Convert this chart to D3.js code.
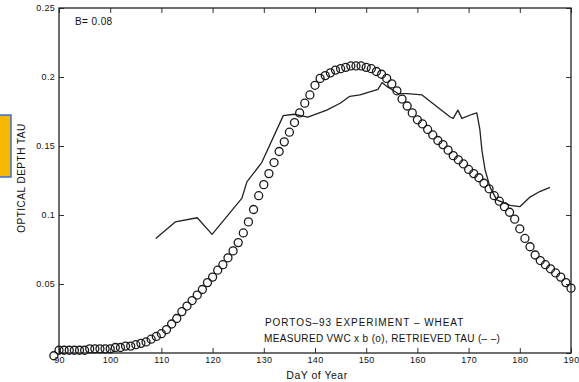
<!DOCTYPE html>
<html>
<head>
<meta charset="utf-8">
<script src="https://cdn.jsdelivr.net/npm/d3@7"></script>
<style>
  body { margin: 0; background: #fff; }
  text { font-family: "Liberation Sans", Arial, sans-serif; fill: #111; }
</style>
</head>
<body>
<div id="chart"></div>
<script>
var width = 579,
    height = 382;
var margin = {top: 8, right: 8, bottom: 29, left: 59};
var w = width - margin.left - margin.right,
    h = height - margin.top - margin.bottom;

// measured VWC x b, one circle per day
var vwcDays = d3.range(89, 191);
var vwcValues = [
  -0.002, 0.002, 0.002, 0.002, 0.002, 0.002, 0.002, 0.003, 0.003, 0.003,
  0.003, 0.003, 0.004, 0.004, 0.005, 0.005, 0.006, 0.007, 0.008, 0.010,
  0.012, 0.014, 0.017, 0.021, 0.025, 0.030, 0.034, 0.038, 0.042, 0.046,
  0.051, 0.055, 0.060, 0.064, 0.069, 0.074, 0.080, 0.087, 0.095, 0.104,
  0.114, 0.122, 0.130, 0.138, 0.146, 0.153, 0.160, 0.167, 0.174, 0.181,
  0.187, 0.194, 0.199, 0.201, 0.203, 0.205, 0.206, 0.207, 0.208, 0.208,
  0.208, 0.207, 0.206, 0.204, 0.202, 0.199, 0.195, 0.190, 0.184, 0.179,
  0.174, 0.169, 0.166, 0.162, 0.158, 0.154, 0.151, 0.147, 0.143, 0.140,
  0.137, 0.133, 0.130, 0.127, 0.123, 0.119, 0.114, 0.110, 0.106, 0.102,
  0.097, 0.090, 0.083, 0.077, 0.071, 0.067, 0.064, 0.061, 0.058, 0.055,
  0.051, 0.047
];

// retrieved tau (solid line)
var tauDays = [108.9, 112.7, 117.0, 119.9, 125.7, 126.7, 129.6, 133.8, 135.9, 138.6,
  142.3, 144.9, 146.8, 148.8, 152.3, 153.1, 154.1, 155.0, 156.2, 158.0,
  160.9, 166.4, 167.0, 167.9, 168.7, 170.7, 171.6, 172.2, 172.6, 173.2,
  174.2, 175.5, 178.1, 180.0, 182.0, 183.9, 185.9];
var tauValues = [0.083, 0.095, 0.098, 0.086, 0.112, 0.124, 0.138, 0.172, 0.173, 0.171,
  0.176, 0.181, 0.186, 0.187, 0.191, 0.196, 0.193, 0.191, 0.188, 0.188,
  0.187, 0.171, 0.170, 0.176, 0.170, 0.173, 0.174, 0.162, 0.147, 0.133,
  0.120, 0.111, 0.107, 0.106, 0.113, 0.117, 0.120];

var xTicks = [90, 100, 110, 120, 130, 140, 150, 160, 170, 180, 190];
var yTicks = [0, 0.05, 0.1, 0.15, 0.2, 0.25];
// the "0" label is hidden under the first circle in the original
var yTickLabels = ["", "0.05", "0.1", "0.15", "0.2", "0.25"];

var svg = d3.select("#chart")
    .append("svg")
    .attr("width", width)
    .attr("height", height);

// stray highlight at the left edge of the scan
svg.append("rect")
    .attr("x", -2).attr("y", 115)
    .attr("width", 13).attr("height", 62)
    .attr("fill", "#f6b900")
    .attr("stroke", "#3b6fd6")
    .attr("stroke-width", 1.5);

var g = svg.append("g")
    .attr("transform", "translate(" + margin.left + "," + margin.top + ")");

var x = d3.scaleLinear().domain([90, 190]).range([0, w]);
var y = d3.scaleLinear().domain([0, 0.25]).range([h, 0]);

function styleAxis(sel) {
  sel.select(".domain").remove();
  sel.selectAll(".tick line").attr("stroke", "#333").attr("stroke-width", 1);
  sel.selectAll(".tick text")
    .style("font-size", "9px")
    .style("font-family", "'Liberation Sans', Arial, sans-serif")
    .style("letter-spacing", "0.3px")
    .attr("fill", "#111");
}

g.append("g")
    .attr("transform", "translate(0," + h + ")")
    .call(d3.axisBottom(x).tickValues(xTicks).tickFormat(d3.format("d"))
      .tickSizeInner(-5).tickSizeOuter(0).tickPadding(4))
    .call(styleAxis);

g.append("g")
    .call(d3.axisTop(x).tickValues(xTicks).tickFormat("")
      .tickSizeInner(-5).tickSizeOuter(0))
    .call(styleAxis);

g.append("g")
    .call(d3.axisLeft(y).tickValues(yTicks).tickFormat(function(d, i) { return yTickLabels[i]; })
      .tickSizeInner(-5).tickSizeOuter(0).tickPadding(4))
    .call(styleAxis);

g.append("g")
    .attr("transform", "translate(" + w + ",0)")
    .call(d3.axisRight(y).tickValues(yTicks).tickFormat("")
      .tickSizeInner(-5).tickSizeOuter(0))
    .call(styleAxis);

// box
g.append("rect")
    .attr("width", w).attr("height", h)
    .attr("fill", "none")
    .attr("stroke", "#222")
    .attr("stroke-width", 1.3);

var line = d3.line()
    .x(function(d, i) { return x(tauDays[i]); })
    .y(function(d) { return y(d); });

g.append("path")
    .attr("d", line(tauValues))
    .attr("fill", "none")
    .attr("stroke", "#222")
    .attr("stroke-width", 1.3)
    .attr("stroke-linejoin", "round");

g.selectAll("circle.vwc")
    .data(vwcValues)
    .enter().append("circle")
    .attr("class", "vwc")
    .attr("cx", function(d, i) { return x(vwcDays[i]); })
    .attr("cy", function(d) { return y(d); })
    .attr("r", 4)
    .attr("fill", "none")
    .attr("stroke", "#1a1a1a")
    .attr("stroke-width", 1.3);

// labels
g.append("text")
    .attr("x", 16).attr("y", 17)
    .style("font-size", "10px")
    .style("letter-spacing", "0.4px")
    .text("B= 0.08");

g.append("text")
    .attr("x", 206).attr("y", 318)
    .style("font-size", "10px")
    .style("letter-spacing", "0.95px")
    .text("PORTOS\u201393 EXPERIMENT \u2013 WHEAT");

g.append("text")
    .attr("x", 205).attr("y", 334)
    .style("font-size", "10px")
    .style("letter-spacing", "0.35px")
    .text("MEASURED VWC x b (o), RETRIEVED TAU (\u2013 \u2013)");

svg.append("text")
    .attr("x", margin.left + w / 2 + 2)
    .attr("y", 379)
    .attr("text-anchor", "middle")
    .style("font-size", "10.5px")
    .style("letter-spacing", "0.5px")
    .text("DaY of Year");

svg.append("text")
    .attr("transform", "translate(25,178) rotate(-90)")
    .attr("text-anchor", "middle")
    .style("font-size", "10px")
    .style("letter-spacing", "0.5px")
    .text("OPTICAL DEPTH TAU");
</script>
</body>
</html>
